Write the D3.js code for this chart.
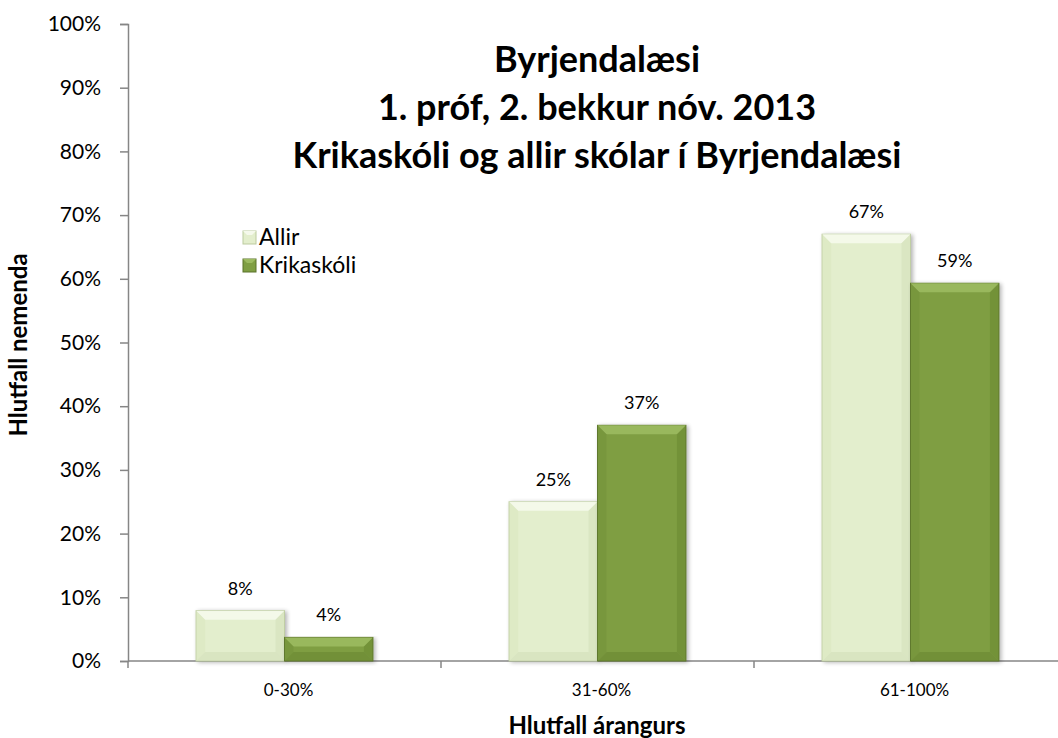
<!DOCTYPE html>
<html>
<head>
<meta charset="utf-8">
<script src="https://cdn.jsdelivr.net/npm/d3@7"></script>
<style>
  body { margin: 0; background: #fff; }
  text { font-family: Lato, "Noto Sans", sans-serif; fill: #000; }
</style>
</head>
<body>
<script>
// data
var categories = ["0-30%", "31-60%", "61-100%"];
var seriesNames = ["Allir", "Krikaskóli"];
var allir = [0.079, 0.25, 0.67];
var krikaskoli = [0.037, 0.37, 0.593];
var valueLabels = [["8%", "25%", "67%"], ["4%", "37%", "59%"]];
var yTicks = [0, 0.1, 0.2, 0.3, 0.4, 0.5, 0.6, 0.7, 0.8, 0.9, 1];
var titleLines = ["Byrjendalæsi", "1. próf, 2. bekkur nóv. 2013", "Krikaskóli og allir skólar í Byrjendalæsi"];

var width = 1058, height = 738;
var plotLeft = 128, plotBottom = 661, plotTop = 24;

var palette = {
  Allir: { body: "#e3eecd", hi: "#f5f9ec", lo: "#cfdcb6", side: "#d6e4bc", edge: "#bccb9f" },
  "Krikaskóli": { body: "#7f9e43", hi: "#9cba60", lo: "#66822f", side: "#718f39", edge: "#5a732a" }
};

var svg = d3.select("body").append("svg")
  .attr("width", width)
  .attr("height", height);

var defs = svg.append("defs");
var shadow = defs.append("filter").attr("id", "shadow")
  .attr("x", "-10%").attr("y", "-10%").attr("width", "130%").attr("height", "130%");
shadow.append("feGaussianBlur").attr("in", "SourceAlpha").attr("stdDeviation", 2);
shadow.append("feOffset").attr("dx", 2).attr("dy", 1).attr("result", "b");
shadow.append("feComponentTransfer").append("feFuncA").attr("type", "linear").attr("slope", 0.3);
var merge = shadow.append("feMerge");
merge.append("feMergeNode");
merge.append("feMergeNode").attr("in", "SourceGraphic");

var x0 = d3.scaleBand()
  .domain(categories)
  .range([plotLeft, 1067]);

var x1 = d3.scaleBand()
  .domain(seriesNames)
  .range([0, x0.bandwidth()])
  .paddingInner(0)
  .paddingOuter(0.77);

var y = d3.scaleLinear()
  .domain([0, 1])
  .range([plotBottom, plotTop]);

// y axis
var yAxis = svg.append("g")
  .attr("transform", "translate(" + plotLeft + ",0)")
  .call(d3.axisLeft(y).tickValues(yTicks).tickFormat(d3.format(".0%")).tickSize(8).tickPadding(19));
yAxis.select(".domain").attr("stroke", "#868686").attr("stroke-width", 1.5);
yAxis.selectAll(".tick line").attr("stroke", "#868686").attr("stroke-width", 1.5);
yAxis.selectAll(".tick text").style("font-size", "21px").attr("fill", "#000");

// x axis
var xAxis = svg.append("g")
  .attr("transform", "translate(0," + plotBottom + ")");
xAxis.append("line")
  .attr("x1", plotLeft).attr("x2", width)
  .attr("stroke", "#868686").attr("stroke-width", 1.5);
xAxis.selectAll(".sep")
  .data(categories)
  .enter().append("line")
  .attr("x1", function(d) { return x0(d); })
  .attr("x2", function(d) { return x0(d); })
  .attr("y1", 0).attr("y2", 7)
  .attr("stroke", "#868686").attr("stroke-width", 1.5);
xAxis.selectAll(".cat")
  .data(categories)
  .enter().append("text")
  .attr("x", function(d) { return x0(d) + x0.bandwidth() / 2 + 4; })
  .attr("y", 35)
  .attr("text-anchor", "middle")
  .style("font-size", "17px")
  .text(function(d) { return d; });

// bars
var rows = [];
categories.forEach(function(c, i) {
  rows.push({ cat: c, name: "Allir", value: allir[i], label: valueLabels[0][i] });
  rows.push({ cat: c, name: "Krikaskóli", value: krikaskoli[i], label: valueLabels[1][i] });
});

var bev = 9;
var bars = svg.append("g").selectAll("g")
  .data(rows)
  .enter().append("g")
  .attr("filter", "url(#shadow)");

bars.each(function(d) {
  var g = d3.select(this);
  var bx = x0(d.cat) + x1(d.name), bw = x1.bandwidth();
  var by = y(d.value), bh = plotBottom - by;
  var col = palette[d.name];
  var b = Math.min(bev, bh / 2);
  g.append("rect")
    .attr("x", bx).attr("y", by).attr("width", bw).attr("height", bh)
    .attr("fill", col.body).attr("stroke", col.edge).attr("stroke-width", 1);
  // bevel faces
  var pts = function(a) { return a.map(function(p) { return p.join(","); }).join(" "); };
  g.append("polygon").attr("fill", col.hi).attr("opacity", 0.9)
    .attr("points", pts([[bx, by], [bx + bw, by], [bx + bw - b, by + b], [bx + b, by + b]]));
  g.append("polygon").attr("fill", col.lo).attr("opacity", 0.5)
    .attr("points", pts([[bx, by + bh], [bx + bw, by + bh], [bx + bw - b, by + bh - b], [bx + b, by + bh - b]]));
  g.append("polygon").attr("fill", col.side).attr("opacity", 0.45)
    .attr("points", pts([[bx, by], [bx + b, by + b], [bx + b, by + bh - b], [bx, by + bh]]));
  g.append("polygon").attr("fill", col.lo).attr("opacity", 0.45)
    .attr("points", pts([[bx + bw, by], [bx + bw - b, by + b], [bx + bw - b, by + bh - b], [bx + bw, by + bh]]));
});

svg.append("g").selectAll("text")
  .data(rows)
  .enter().append("text")
  .attr("x", function(d) { return x0(d.cat) + x1(d.name) + x1.bandwidth() / 2; })
  .attr("y", function(d) { return y(d.value) - 16; })
  .attr("text-anchor", "middle")
  .style("font-size", "18px")
  .text(function(d) { return d.label; });

// title
svg.append("g").selectAll("text")
  .data(titleLines)
  .enter().append("text")
  .attr("x", 597)
  .attr("y", function(d, i) { return 72 + i * 48; })
  .attr("text-anchor", "middle")
  .style("font-size", "36px")
  .style("font-weight", "bold")
  .text(function(d) { return d; });

// legend
var legend = svg.append("g").selectAll("g")
  .data(seriesNames)
  .enter().append("g")
  .attr("transform", function(d, i) { return "translate(243," + (231 + i * 28) + ")"; });
legend.append("rect")
  .attr("width", 13).attr("height", 13)
  .attr("fill", function(d) { return palette[d].body; })
  .attr("stroke", function(d) { return palette[d].edge; });
legend.append("polygon")
  .attr("points", "0,0 13,0 9,4 4,4")
  .attr("fill", function(d) { return palette[d].hi; });
legend.append("text")
  .attr("x", 16).attr("y", 14)
  .style("font-size", "23px")
  .text(function(d) { return d; });

// axis titles
svg.append("text")
  .attr("x", 597).attr("y", 734)
  .attr("text-anchor", "middle")
  .style("font-size", "24px").style("font-weight", "bold")
  .text("Hlutfall árangurs");

svg.append("text")
  .attr("transform", "translate(27,345) rotate(-90)")
  .attr("text-anchor", "middle")
  .style("font-size", "24px").style("font-weight", "bold")
  .text("Hlutfall nemenda");
</script>
</body>
</html>
